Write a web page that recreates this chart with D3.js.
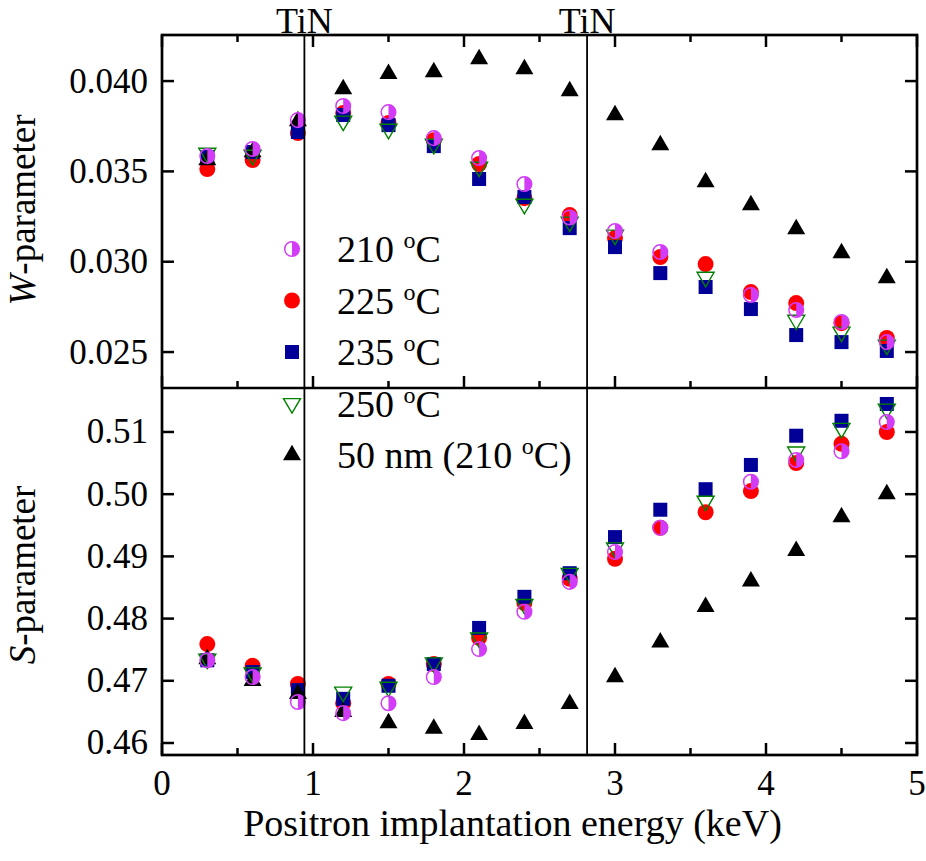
<!DOCTYPE html>
<html>
<head>
<meta charset="utf-8">
<script src="https://cdn.jsdelivr.net/npm/d3@7/dist/d3.min.js"></script>
<style>
  html, body { margin: 0; padding: 0; background: #fff; }
  svg { display: block; font-family: "Liberation Serif", "Times New Roman", serif; }
</style>
</head>
<body>
<svg id="chart" width="926" height="861"></svg>
<script>
// ---------------- DATA ----------------
const energy = [0.3, 0.6, 0.9, 1.2, 1.5, 1.8, 2.1, 2.4, 2.7, 3.0, 3.3, 3.6, 3.9, 4.2, 4.5, 4.8];

const W210 = [0.03585, 0.03624, 0.03784, 0.03862, 0.03828, 0.03684, 0.03574, 0.03430, 0.03245, 0.03170, 0.03054, null, 0.02816, 0.02733, 0.02666, 0.02555];
const W225 = [0.03513, 0.03563, 0.03712, 0.03823, 0.03768, 0.03673, 0.03541, 0.03352, 0.03258, 0.03131, 0.03026, 0.02987, 0.02832, 0.02771, 0.02660, 0.02578];
const W235 = [0.03580, 0.03607, 0.03718, 0.03812, 0.03756, 0.03640, 0.03458, 0.03358, 0.03186, 0.03081, 0.02937, 0.02860, 0.02738, 0.02594, 0.02555, 0.02506];
const W250 = [0.03601, 0.03590, null, 0.03779, 0.03734, 0.03651, 0.03524, 0.03319, 0.03220, 0.03148, null, 0.02915, null, 0.02677, 0.02611, 0.02539];
const W50nm = [0.03563, 0.03607, 0.03779, 0.03956, 0.04040, 0.04050, 0.04122, 0.04066, 0.03945, 0.03812, 0.03646, 0.03441, 0.03314, 0.03181, 0.03048, 0.02910];

const S210 = [0.4733, 0.4706, 0.4666, 0.4648, 0.4664, 0.4706, 0.4751, 0.4811, 0.4859, 0.4907, 0.4946, null, 0.5020, 0.5055, 0.5069, 0.5116];
const S225 = [0.4759, 0.4724, 0.4695, 0.4664, 0.4695, 0.4727, 0.4769, 0.4825, 0.4864, 0.4896, 0.4946, 0.4971, 0.5005, 0.5050, 0.5081, 0.5100];
const S235 = [0.4733, 0.4714, 0.4685, 0.4671, 0.4692, 0.4727, 0.4785, 0.4835, 0.4873, 0.4931, 0.4975, 0.5008, 0.5047, 0.5094, 0.5118, 0.5145];
const S250 = [0.4735, 0.4713, null, 0.4682, 0.4690, 0.4729, 0.4769, 0.4823, 0.4873, 0.4914, null, 0.4989, null, 0.5068, 0.5106, 0.5137];
const S50nm = [0.4735, 0.4700, 0.4679, 0.4650, 0.4632, 0.4623, 0.4613, 0.4631, 0.4663, 0.4706, 0.4762, 0.4819, 0.4860, 0.4909, 0.4963, 0.5000];

const seriesNames = ["210 ºC", "225 ºC", "235 ºC", "250 ºC", "50 nm (210 ºC)"];
const tinEnergies = [0.943, 2.815];
const tinLabels = ["TiN", "TiN"];
const xTicks = [0, 1, 2, 3, 4, 5];
const xMinorTicks = [0.5, 1.5, 2.5, 3.5, 4.5];
const wTicks = [0.025, 0.030, 0.035, 0.040];
const sTicks = [0.46, 0.47, 0.48, 0.49, 0.50, 0.51];

// ---------------- LAYOUT ----------------
const svg = d3.select("#chart");
const L = 162, R = 917, T = 35, M = 388, B = 755;
const x = d3.scaleLinear().domain([0, 5]).range([L, R]);
const yW = d3.scaleLinear().domain([0.02301, 0.04255]).range([M, T]);
const yS = d3.scaleLinear().domain([0.45807, 0.51707]).range([B, M]);

const style = {
  "210 ºC": { type: "half", color: "#d23cf7" },
  "225 ºC": { type: "circle", color: "#ff0000" },
  "235 ºC": { type: "square", color: "#000099" },
  "250 ºC": { type: "down", color: "#008000" },
  "50 nm (210 ºC)": { type: "up", color: "#000000" }
};

function drawMarker(g, type, color, cx, cy) {
  if (type === "circle") {
    g.append("circle").attr("cx", cx).attr("cy", cy).attr("r", 8).attr("fill", color);
  } else if (type === "half") {
    const r = 7.3;
    g.append("path")
      .attr("d", `M${cx},${cy - r} A${r},${r} 0 0 1 ${cx},${cy + r} Z`)
      .attr("fill", color);
    g.append("circle").attr("cx", cx).attr("cy", cy).attr("r", r)
      .attr("fill", "none").attr("stroke", color).attr("stroke-width", 1.5);
  } else if (type === "square") {
    g.append("rect").attr("x", cx - 7).attr("y", cy - 7).attr("width", 14).attr("height", 14).attr("fill", color);
  } else if (type === "up") {
    const w = 9, h = 15.5;
    g.append("path")
      .attr("d", `M${cx},${cy - h * 2 / 3} L${cx + w},${cy + h / 3} L${cx - w},${cy + h / 3} Z`)
      .attr("fill", color);
  } else if (type === "down") {
    const w = 8.5, h = 14.5;
    g.append("path")
      .attr("d", `M${cx - w},${cy - h / 3} L${cx + w},${cy - h / 3} L${cx},${cy + h * 2 / 3} Z`)
      .attr("fill", "none").attr("stroke", color).attr("stroke-width", 1.4).attr("stroke-linejoin", "miter");
  }
}

// ---------------- MARKS ----------------
const wSeries = { "210 ºC": W210, "225 ºC": W225, "235 ºC": W235, "250 ºC": W250, "50 nm (210 ºC)": W50nm };
const sSeries = { "210 ºC": S210, "225 ºC": S225, "235 ºC": S235, "250 ºC": S250, "50 nm (210 ºC)": S50nm };
const drawOrder = ["225 ºC", "235 ºC", "50 nm (210 ºC)", "250 ºC", "210 ºC"];

const marks = svg.append("g");
[[wSeries, yW], [sSeries, yS]].forEach(([ser, ys]) => {
  drawOrder.forEach(name => {
    const g = marks.append("g");
    ser[name].forEach((v, i) => {
      if (v === null) return;
      drawMarker(g, style[name].type, style[name].color, x(energy[i]), ys(v));
    });
  });
});

// TiN boundary lines
tinEnergies.forEach((e, i) => {
  svg.append("line").attr("x1", x(e)).attr("x2", x(e)).attr("y1", T).attr("y2", B)
    .attr("stroke", "#000").attr("stroke-width", 1.8);
  svg.append("text").attr("x", x(e)).attr("y", 33).attr("text-anchor", "middle")
    .attr("font-size", 36).text(tinLabels[i]);
});

// ---------------- AXES ----------------
const axW = 2.7;
const frame = svg.append("g").attr("fill", "none").attr("stroke", "#000").attr("stroke-width", axW);
frame.append("rect").attr("x", L).attr("y", T).attr("width", R - L).attr("height", B - T);
frame.append("line").attr("x1", L).attr("x2", R).attr("y1", M).attr("y2", M);

const ticks = svg.append("g").attr("stroke", "#000").attr("stroke-width", 2.5);
xTicks.forEach(t => {
  ticks.append("line").attr("x1", x(t)).attr("x2", x(t)).attr("y1", T).attr("y2", T + 12);
  ticks.append("line").attr("x1", x(t)).attr("x2", x(t)).attr("y1", M).attr("y2", M - 12);
  ticks.append("line").attr("x1", x(t)).attr("x2", x(t)).attr("y1", B).attr("y2", B - 12);
});
xMinorTicks.forEach(t => {
  ticks.append("line").attr("x1", x(t)).attr("x2", x(t)).attr("y1", T).attr("y2", T + 7);
  ticks.append("line").attr("x1", x(t)).attr("x2", x(t)).attr("y1", M).attr("y2", M - 7);
  ticks.append("line").attr("x1", x(t)).attr("x2", x(t)).attr("y1", B).attr("y2", B - 7);
});
wTicks.forEach(t => {
  ticks.append("line").attr("x1", L).attr("x2", L + 12).attr("y1", yW(t)).attr("y2", yW(t));
  ticks.append("line").attr("x1", R).attr("x2", R - 12).attr("y1", yW(t)).attr("y2", yW(t));
});
sTicks.forEach(t => {
  ticks.append("line").attr("x1", L).attr("x2", L + 12).attr("y1", yS(t)).attr("y2", yS(t));
  ticks.append("line").attr("x1", R).attr("x2", R - 12).attr("y1", yS(t)).attr("y2", yS(t));
});

// tick labels
const fs = 35;
const labels = svg.append("g").attr("font-size", fs).attr("fill", "#000");
xTicks.forEach(t => {
  labels.append("text").attr("x", x(t)).attr("y", 795).attr("text-anchor", "middle").text(d3.format("d")(t));
});
wTicks.forEach(t => {
  labels.append("text").attr("x", 148).attr("y", yW(t) + 11.5).attr("text-anchor", "end").text(d3.format(".3f")(t));
});
sTicks.forEach(t => {
  labels.append("text").attr("x", 148).attr("y", yS(t) + 11.5).attr("text-anchor", "end").text(d3.format(".2f")(t));
});

// axis titles
svg.append("text").attr("x", (240 + 785) / 2).attr("y", 836).attr("text-anchor", "middle")
  .attr("font-size", 38).text("Positron implantation energy (keV)");

const wt = svg.append("text").attr("transform", `translate(35,210) rotate(-90)`)
  .attr("text-anchor", "middle").attr("font-size", 37);
wt.append("tspan").attr("font-style", "italic").text("W");
wt.append("tspan").text("-parameter");

const st = svg.append("text").attr("transform", `translate(35,575) rotate(-90)`)
  .attr("text-anchor", "middle").attr("font-size", 37);
st.append("tspan").attr("font-style", "italic").text("S");
st.append("tspan").text("-parameter");

// ---------------- LEGEND ----------------
const legend = svg.append("g");
const legX = 292, legTextX = 337, legY0 = 262, legDy = 51.5;
seriesNames.forEach((name, i) => {
  const by = legY0 + i * legDy;
  drawMarker(legend, style[name].type, style[name].color, legX, by - 13);
  const parts = name.split("º");
  const t = legend.append("text").attr("x", legTextX).attr("y", by).attr("font-size", 38);
  t.append("tspan").text(parts[0]);
  t.append("tspan").attr("font-size", 24).attr("dy", -14).text("o");
  t.append("tspan").attr("dy", 14).text(parts[1]);
});
</script>
</body>
</html>
